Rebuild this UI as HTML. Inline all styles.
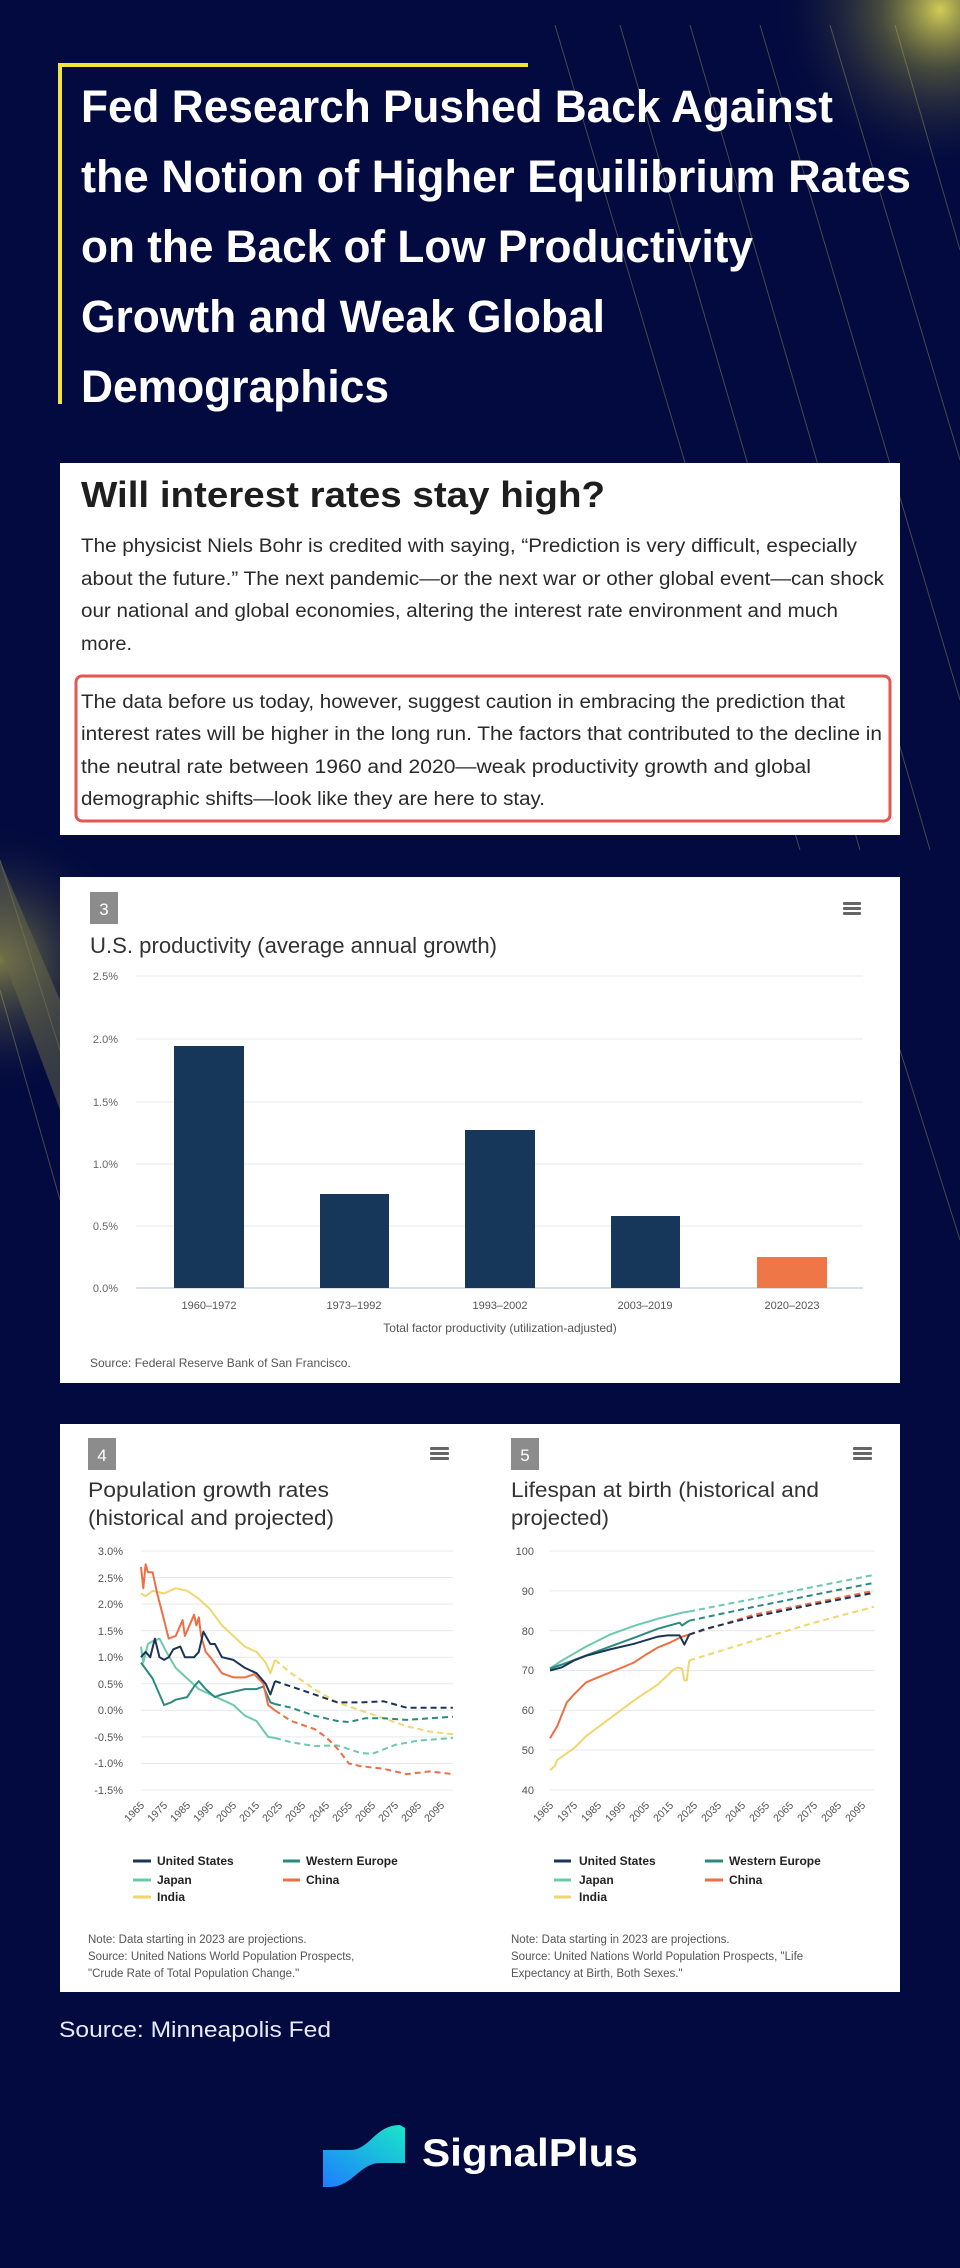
<!DOCTYPE html>
<html><head><meta charset="utf-8">
<style>
html,body{margin:0;padding:0;background:#020a3f;}
body{width:960px;height:2268px;overflow:hidden;position:relative;}
svg{position:absolute;left:0;top:0;}
</style></head>
<body>
<svg width="960" height="2268" viewBox="0 0 960 2268" xmlns="http://www.w3.org/2000/svg" font-family="Liberation Sans, sans-serif">
<defs>
<radialGradient id="g1" cx="940" cy="10" r="170" gradientUnits="userSpaceOnUse"><stop offset="0" stop-color="#e8e25a" stop-opacity="0.9"/><stop offset="0.35" stop-color="#8a8a3a" stop-opacity="0.5"/><stop offset="1" stop-color="#020a3f" stop-opacity="0"/></radialGradient>
<radialGradient id="g2" cx="0" cy="960" r="140" gradientUnits="userSpaceOnUse"><stop offset="0" stop-color="#c8c24a" stop-opacity="0.6"/><stop offset="1" stop-color="#020a3f" stop-opacity="0"/></radialGradient>
<linearGradient id="lg" x1="0" y1="1" x2="1" y2="0"><stop offset="0" stop-color="#1e7dff"/><stop offset="1" stop-color="#19e6c8"/></linearGradient>
</defs>
<rect width="960" height="2268" fill="#020a3f"/>
<rect width="960" height="2268" fill="url(#g1)"/>
<rect width="960" height="2268" fill="url(#g2)"/>
<g stroke="#c9c060" stroke-opacity="0.35" stroke-width="1" fill="none">
<line x1="555" y1="25" x2="800" y2="850"/><line x1="620" y1="25" x2="860" y2="850"/><line x1="690" y1="25" x2="930" y2="850"/><line x1="760" y1="25" x2="960" y2="700"/><line x1="830" y1="25" x2="960" y2="460"/><line x1="895" y1="25" x2="960" y2="250"/>
<line x1="0" y1="860" x2="60" y2="1050"/><line x1="0" y1="990" x2="60" y2="1200"/><line x1="900" y1="1050" x2="960" y2="1240"/>
<line x1="0" y1="1320" x2="0" y2="1320"/>
</g>
<polygon points="0,860 60,1000 60,1110 0,950" fill="#6a6a4a" opacity="0.5"/>
<!-- title -->
<line x1="58" y1="65" x2="528" y2="65" stroke="#f2e53a" stroke-width="4"/>
<line x1="60" y1="63" x2="60" y2="404" stroke="#f2e53a" stroke-width="4"/>
<g fill="#fff" font-weight="bold" font-size="45">
<text x="81" y="122" textLength="752" lengthAdjust="spacingAndGlyphs">Fed Research Pushed Back Against</text>
<text x="81" y="192" textLength="830" lengthAdjust="spacingAndGlyphs">the Notion of Higher Equilibrium Rates</text>
<text x="81" y="262" textLength="672" lengthAdjust="spacingAndGlyphs">on the Back of Low Productivity</text>
<text x="81" y="332" textLength="524" lengthAdjust="spacingAndGlyphs">Growth and Weak Global</text>
<text x="81" y="402" textLength="308" lengthAdjust="spacingAndGlyphs">Demographics</text>
</g>
<!-- card 1 -->
<rect x="60" y="463" width="840" height="372" fill="#fff"/>
<text x="81" y="507" font-size="36" font-weight="bold" fill="#1e1e1e" textLength="524" lengthAdjust="spacingAndGlyphs">Will interest rates stay high?</text>
<g font-size="19" fill="#2a2a2a">
<text x="81" y="552" textLength="776" lengthAdjust="spacingAndGlyphs">The physicist Niels Bohr is credited with saying, “Prediction is very difficult, especially</text>
<text x="81" y="585" textLength="803" lengthAdjust="spacingAndGlyphs">about the future.” The next pandemic—or the next war or other global event—can shock</text>
<text x="81" y="617" textLength="757" lengthAdjust="spacingAndGlyphs">our national and global economies, altering the interest rate environment and much</text>
<text x="81" y="650" textLength="51" lengthAdjust="spacingAndGlyphs">more.</text>
<text x="81" y="708" textLength="764" lengthAdjust="spacingAndGlyphs">The data before us today, however, suggest caution in embracing the prediction that</text>
<text x="81" y="740" textLength="801" lengthAdjust="spacingAndGlyphs">interest rates will be higher in the long run. The factors that contributed to the decline in</text>
<text x="81" y="773" textLength="730" lengthAdjust="spacingAndGlyphs">the neutral rate between 1960 and 2020—weak productivity growth and global</text>
<text x="81" y="805" textLength="464" lengthAdjust="spacingAndGlyphs">demographic shifts—look like they are here to stay.</text>
</g>
<rect x="76" y="676" width="814" height="145" rx="6" fill="none" stroke="#e4574f" stroke-width="3"/>
<!-- card 2 -->
<rect x="60" y="877" width="840" height="506" fill="#fff"/>
<rect x="90" y="892" width="28" height="32" fill="#8c8c8c"/>
<text x="104" y="915" font-size="17" fill="#fff" text-anchor="middle">3</text>
<g fill="#666"><rect x="843" y="902" width="18" height="3" rx="1"/><rect x="843" y="907" width="18" height="3" rx="1"/><rect x="843" y="912" width="18" height="3" rx="1"/></g>
<text x="90" y="953" font-size="22" fill="#333" textLength="407" lengthAdjust="spacingAndGlyphs">U.S. productivity (average annual growth)</text>
<g stroke="#e6e9ee" stroke-width="1"><line x1="136" y1="976" x2="863" y2="976"/><line x1="136" y1="1039" x2="863" y2="1039"/><line x1="136" y1="1102" x2="863" y2="1102"/><line x1="136" y1="1164" x2="863" y2="1164"/><line x1="136" y1="1226" x2="863" y2="1226"/></g>
<line x1="136" y1="1288" x2="863" y2="1288" stroke="#cdd5e0" stroke-width="1.5"/>
<g font-size="11" fill="#666" text-anchor="end"><text x="118" y="980">2.5%</text><text x="118" y="1043">2.0%</text><text x="118" y="1106">1.5%</text><text x="118" y="1168">1.0%</text><text x="118" y="1230">0.5%</text><text x="118" y="1292">0.0%</text></g>
<g fill="#17375a"><rect x="174" y="1046" width="70" height="242"/><rect x="320" y="1194" width="69" height="94"/><rect x="465" y="1130" width="70" height="158"/><rect x="611" y="1216" width="69" height="72"/></g>
<rect x="757" y="1257" width="70" height="31" fill="#ee7647"/>
<g font-size="11" fill="#555" text-anchor="middle"><text x="209" y="1309">1960–1972</text><text x="354" y="1309">1973–1992</text><text x="500" y="1309">1993–2002</text><text x="645" y="1309">2003–2019</text><text x="792" y="1309">2020–2023</text>
<text x="500" y="1332" font-size="12">Total factor productivity (utilization-adjusted)</text></g>
<text x="90" y="1367" font-size="12" fill="#555">Source: Federal Reserve Bank of San Francisco.</text>
<!-- card 3 -->
<rect x="60" y="1424" width="840" height="568" fill="#fff"/>
<rect x="88" y="1438" width="28" height="32" fill="#8c8c8c"/><text x="102" y="1461" font-size="17" fill="#fff" text-anchor="middle">4</text>
<rect x="511" y="1438" width="28" height="32" fill="#8c8c8c"/><text x="525" y="1461" font-size="17" fill="#fff" text-anchor="middle">5</text>
<g fill="#666"><rect x="430" y="1447" width="19" height="3" rx="1"/><rect x="430" y="1452" width="19" height="3" rx="1"/><rect x="430" y="1457" width="19" height="3" rx="1"/>
<rect x="853" y="1447" width="19" height="3" rx="1"/><rect x="853" y="1452" width="19" height="3" rx="1"/><rect x="853" y="1457" width="19" height="3" rx="1"/></g>
<g font-size="21" fill="#333">
<text x="88" y="1497" textLength="241" lengthAdjust="spacingAndGlyphs">Population growth rates</text>
<text x="88" y="1525" textLength="246" lengthAdjust="spacingAndGlyphs">(historical and projected)</text>
<text x="511" y="1497" textLength="308" lengthAdjust="spacingAndGlyphs">Lifespan at birth (historical and</text>
<text x="511" y="1525" textLength="98" lengthAdjust="spacingAndGlyphs">projected)</text>
</g>
<g id="grids" stroke="#e6e9ee" stroke-width="1"></g>
<g font-size="11" fill="#555" text-anchor="end">
<text x="123" y="1555">3.0%</text><text x="123" y="1582">2.5%</text><text x="123" y="1608">2.0%</text><text x="123" y="1635">1.5%</text><text x="123" y="1661">1.0%</text><text x="123" y="1688">0.5%</text><text x="123" y="1714">0.0%</text><text x="123" y="1741">-0.5%</text><text x="123" y="1767">-1.0%</text><text x="123" y="1794">-1.5%</text>
<text x="534" y="1555">100</text><text x="534" y="1595">90</text><text x="534" y="1635">80</text><text x="534" y="1674">70</text><text x="534" y="1714">60</text><text x="534" y="1754">50</text><text x="534" y="1794">40</text>
</g>
<g font-size="10.5" fill="#555" text-anchor="end">
<text transform="translate(145,1806) rotate(-45)">1965</text><text transform="translate(168,1806) rotate(-45)">1975</text><text transform="translate(191,1806) rotate(-45)">1985</text><text transform="translate(214,1806) rotate(-45)">1995</text><text transform="translate(237,1806) rotate(-45)">2005</text><text transform="translate(260,1806) rotate(-45)">2015</text><text transform="translate(283,1806) rotate(-45)">2025</text><text transform="translate(306,1806) rotate(-45)">2035</text><text transform="translate(330,1806) rotate(-45)">2045</text><text transform="translate(353,1806) rotate(-45)">2055</text><text transform="translate(376,1806) rotate(-45)">2065</text><text transform="translate(399,1806) rotate(-45)">2075</text><text transform="translate(422,1806) rotate(-45)">2085</text><text transform="translate(445,1806) rotate(-45)">2095</text>
<text transform="translate(554,1806) rotate(-45)">1965</text><text transform="translate(578,1806) rotate(-45)">1975</text><text transform="translate(602,1806) rotate(-45)">1985</text><text transform="translate(626,1806) rotate(-45)">1995</text><text transform="translate(650,1806) rotate(-45)">2005</text><text transform="translate(674,1806) rotate(-45)">2015</text><text transform="translate(698,1806) rotate(-45)">2025</text><text transform="translate(722,1806) rotate(-45)">2035</text><text transform="translate(746,1806) rotate(-45)">2045</text><text transform="translate(770,1806) rotate(-45)">2055</text><text transform="translate(794,1806) rotate(-45)">2065</text><text transform="translate(818,1806) rotate(-45)">2075</text><text transform="translate(842,1806) rotate(-45)">2085</text><text transform="translate(866,1806) rotate(-45)">2095</text>
</g>
<g id="series" fill="none" stroke-width="2" stroke-linejoin="round"></g>
<!-- legends -->
<g stroke-width="3">
<line x1="133" y1="1861" x2="151" y2="1861" stroke="#1b3556"/><line x1="283" y1="1861" x2="300" y2="1861" stroke="#2a8a7e"/>
<line x1="133" y1="1880" x2="151" y2="1880" stroke="#6cc9ad"/><line x1="283" y1="1880" x2="300" y2="1880" stroke="#ec6f45"/>
<line x1="133" y1="1897" x2="151" y2="1897" stroke="#f1d670"/>
<line x1="554" y1="1861" x2="571" y2="1861" stroke="#1b3556"/><line x1="705" y1="1861" x2="723" y2="1861" stroke="#2a8a7e"/>
<line x1="554" y1="1880" x2="571" y2="1880" stroke="#6cc9ad"/><line x1="705" y1="1880" x2="723" y2="1880" stroke="#ec6f45"/>
<line x1="554" y1="1897" x2="571" y2="1897" stroke="#f1d670"/>
</g>
<g font-size="12" font-weight="bold" fill="#222">
<text x="157" y="1865">United States</text><text x="306" y="1865">Western Europe</text><text x="157" y="1884">Japan</text><text x="306" y="1884">China</text><text x="157" y="1901">India</text>
<text x="579" y="1865">United States</text><text x="729" y="1865">Western Europe</text><text x="579" y="1884">Japan</text><text x="729" y="1884">China</text><text x="579" y="1901">India</text>
</g>
<g font-size="11.5" fill="#555">
<text x="88" y="1943">Note: Data starting in 2023 are projections.</text>
<text x="88" y="1960">Source: United Nations World Population Prospects,</text>
<text x="88" y="1977">"Crude Rate of Total Population Change."</text>
<text x="511" y="1943">Note: Data starting in 2023 are projections.</text>
<text x="511" y="1960">Source: United Nations World Population Prospects, "Life</text>
<text x="511" y="1977">Expectancy at Birth, Both Sexes."</text>
</g>
<!-- footer -->
<text x="59" y="2037" font-size="22" fill="#e8eaf5" textLength="272" lengthAdjust="spacingAndGlyphs">Source: Minneapolis Fed</text>
<path d="M323,2150 L350,2150 C370,2150 375,2125 400,2125 L405,2128 L405,2163 L380,2163 C360,2163 352,2187 330,2187 L323,2187 Z" fill="url(#lg)"/>
<text x="422" y="2166" font-size="39" font-weight="bold" fill="#fff" textLength="216" lengthAdjust="spacingAndGlyphs">SignalPlus</text>
</svg>
<script>
(function(){
var NS="http://www.w3.org/2000/svg";
var grids=document.getElementById('grids'), S=document.getElementById('series');
function ln(p,a){var e=document.createElementNS(NS,'line');for(var k in a)e.setAttribute(k,a[k]);p.appendChild(e);}
for(var i=0;i<10;i++){var y=1551+i*26.56;ln(grids,{x1:141,y1:y,x2:453,y2:y});}
for(var i=0;i<7;i++){var y=1551+i*39.83;ln(grids,{x1:550,y1:y,x2:874,y2:y});}
function path(pts,fx,fy,col,dash){var d='';pts.forEach(function(p,i){d+=(i?'L':'M')+fx(p[0]).toFixed(1)+','+fy(p[1]).toFixed(1);});
var e=document.createElementNS(NS,'path');e.setAttribute('d',d);e.setAttribute('stroke',col);if(dash)e.setAttribute('stroke-dasharray','6,4');S.appendChild(e);}
function ser(h,p,fx,fy,col){path(h,fx,fy,col,false);path([h[h.length-1]].concat(p),fx,fy,col,true);}
var ax=function(y){return 141+(y-1965)*2.31;}, ay=function(v){return 1551+(3-v)*53.12;};
var bx=function(y){return 550+(y-1965)*2.4;}, by=function(v){return 1551+(100-v)*3.983;};
var C={us:'#1b3556',we:'#2a8a7e',jp:'#6cc9ad',cn:'#ec6f45',in:'#f1d670'};
ser([[1965,2.2],[1967,2.15],[1970,2.25],[1975,2.2],[1980,2.3],[1985,2.25],[1990,2.1],[1995,1.9],[2000,1.6],[2005,1.4],[2010,1.2],[2015,1.1],[2019,0.9],[2021,0.7],[2023,0.95]],[[2030,0.7],[2040,0.4],[2050,0.15],[2060,0],[2070,-0.15],[2080,-0.3],[2090,-0.4],[2100,-0.45]],ax,ay,C.in);
ser([[1965,1.2],[1966,0.9],[1968,1.25],[1970,1.3],[1973,1.35],[1976,1.1],[1980,0.8],[1985,0.6],[1990,0.4],[1995,0.3],[2000,0.2],[2005,0.1],[2010,-0.1],[2015,-0.2],[2020,-0.5],[2023,-0.52]],[[2030,-0.6],[2040,-0.67],[2050,-0.66],[2060,-0.8],[2065,-0.82],[2075,-0.65],[2085,-0.57],[2100,-0.52]],ax,ay,C.jp);
ser([[1965,0.9],[1970,0.6],[1975,0.1],[1978,0.15],[1980,0.2],[1985,0.25],[1988,0.45],[1990,0.55],[1993,0.4],[1997,0.25],[2000,0.3],[2005,0.35],[2010,0.4],[2015,0.4],[2018,0.45],[2021,0.15],[2023,0.12]],[[2030,0.05],[2040,-0.1],[2050,-0.2],[2055,-0.22],[2062,-0.15],[2070,-0.15],[2080,-0.18],[2100,-0.12]],ax,ay,C.we);
ser([[1965,2.7],[1966,2.3],[1967,2.75],[1968,2.6],[1970,2.6],[1972,2.2],[1975,1.7],[1977,1.35],[1980,1.4],[1983,1.7],[1984,1.4],[1986,1.6],[1988,1.8],[1989,1.6],[1990,1.75],[1991,1.4],[1993,1.1],[1995,1.0],[2000,0.7],[2005,0.62],[2010,0.62],[2014,0.68],[2018,0.5],[2020,0.1],[2023,0.0]],[[2030,-0.2],[2040,-0.35],[2045,-0.5],[2050,-0.72],[2055,-1.0],[2060,-1.05],[2070,-1.1],[2080,-1.2],[2090,-1.15],[2100,-1.2]],ax,ay,C.cn);
ser([[1965,1.0],[1967,1.1],[1969,1.0],[1971,1.35],[1973,1.0],[1975,0.95],[1977,1.0],[1979,1.15],[1982,1.2],[1984,1.0],[1988,1.0],[1990,1.1],[1992,1.48],[1995,1.25],[1997,1.25],[2000,1.0],[2005,0.95],[2010,0.8],[2015,0.7],[2019,0.5],[2021,0.3],[2023,0.55]],[[2030,0.45],[2040,0.3],[2050,0.15],[2060,0.15],[2070,0.17],[2080,0.05],[2100,0.05]],ax,ay,C.us);
ser([[1965,45],[1967,46],[1968,47.5],[1975,50.5],[1980,53.5],[1990,58],[2000,62.5],[2010,66.5],[2016,70],[2018,70.7],[2020,70.5],[2021,67.5],[2022,67.5],[2023,72.5]],[[2050,77.5],[2075,82],[2100,86]],bx,by,C.in);
ser([[1965,53],[1968,56],[1972,62],[1975,64],[1980,67],[1985,68.3],[1990,69.5],[2000,72],[2005,74],[2010,75.8],[2015,77],[2020,78.5],[2023,79]],[[2050,84],[2075,87],[2100,90]],bx,by,C.cn);
ser([[1965,70.5],[1970,72.5],[1980,76],[1990,79],[2000,81.2],[2010,83],[2020,84.5],[2023,84.8]],[[2050,88],[2075,91],[2100,94]],bx,by,C.jp);
ser([[1965,70.5],[1970,71.5],[1980,73.8],[1990,76],[2000,78.2],[2010,80.5],[2019,82],[2020,81.3],[2023,82.5]],[[2050,86],[2075,89],[2100,92]],bx,by,C.we);
ser([[1965,70],[1970,70.8],[1975,72.5],[1980,73.7],[1990,75.3],[2000,76.7],[2010,78.5],[2014,78.8],[2019,78.8],[2021,76.5],[2023,79]],[[2030,80.5],[2050,83.5],[2070,86],[2100,89.5]],bx,by,C.us);
})();
</script>
</body></html>
